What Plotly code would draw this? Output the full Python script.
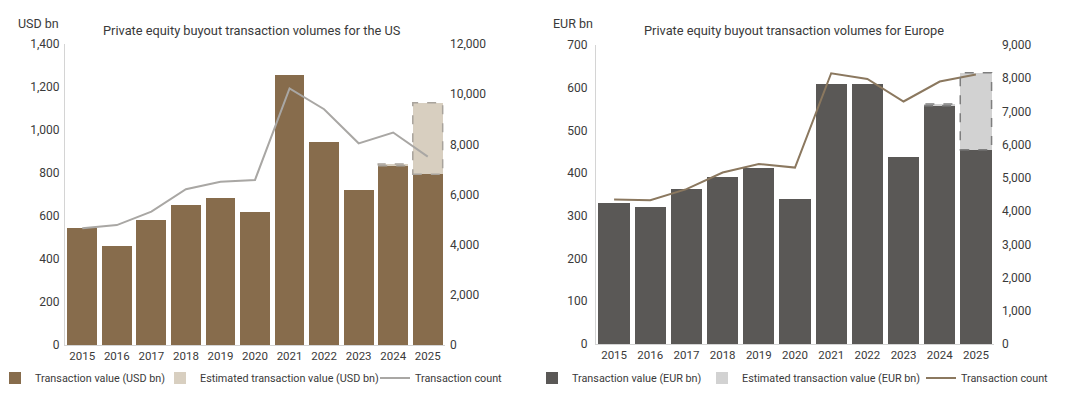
import plotly.graph_objects as go

years = [str(y) for y in range(2015, 2026)]

us_value = [545, 462, 583, 651, 682, 619, 1254, 946, 721, 834, 794]
us_estimated = [0, 0, 0, 0, 0, 0, 0, 0, 0, 8, 333]
us_count = [4650, 4780, 5320, 6210, 6510, 6580, 10230, 9400, 8040, 8470, 7510]

eu_value = [330, 321, 364, 391, 412, 339, 608, 608, 437, 558, 455]
eu_estimated = [0, 0, 0, 0, 0, 0, 0, 0, 0, 4, 180]
eu_count = [4350, 4330, 4660, 5160, 5420, 5310, 8150, 7980, 7300, 7900, 8110]

# page body has an 8px default margin; lay out in window pixels
OFF = 8
W, H = 1080 - OFF, 398 - OFF
FONT = "Roboto, Arial, sans-serif"
TXT = "#3a3a3a"

US_BAR = "#876C4C"
US_EST = "#D8CFC0"
US_EST_LINE = "#A8A39C"
US_LINE = "#A9A7A4"
EU_BAR = "#5A5856"
EU_EST = "#D2D2D2"
EU_EST_LINE = "#7E7E7E"
EU_LINE = "#8B785F"

BARGAP = 0.135

def px_x(p):
    return (p - OFF) / W

def px_y(p):
    return 1 - (p - OFF) / H

fig = go.Figure()

# US
fig.add_trace(go.Bar(x=years, y=us_value, name="Transaction value (USD bn)",
                     marker=dict(color=US_BAR, line=dict(width=0)),
                     xaxis="x", yaxis="y", legend="legend"))
fig.add_trace(go.Bar(x=years, y=us_estimated, name="Estimated transaction value (USD bn)",
                     marker=dict(color=US_EST, line=dict(width=0)),
                     xaxis="x", yaxis="y", legend="legend2"))
fig.add_trace(go.Scatter(x=years, y=us_count, name="Transaction count", mode="lines",
                         line=dict(color=US_LINE, width=2),
                         xaxis="x", yaxis="y2", legend="legend3"))

# Europe
fig.add_trace(go.Bar(x=years, y=eu_value, name="Transaction value (EUR bn)",
                     marker=dict(color=EU_BAR, line=dict(width=0)),
                     xaxis="x2", yaxis="y3", legend="legend4"))
fig.add_trace(go.Bar(x=years, y=eu_estimated, name="Estimated transaction value (EUR bn)",
                     marker=dict(color=EU_EST, line=dict(width=0)),
                     xaxis="x2", yaxis="y3", legend="legend5"))
fig.add_trace(go.Scatter(x=years, y=eu_count, name="Transaction count", mode="lines",
                         line=dict(color=EU_LINE, width=2),
                         xaxis="x2", yaxis="y4", legend="legend6"))

# dashed outlines for estimated segments
shapes = []
half = (1 - BARGAP) / 2
for i, (base, est) in enumerate(zip(us_value, us_estimated)):
    if est > 0:
        shapes.append(dict(type="rect", xref="x", yref="y", x0=i - half, x1=i + half,
                           y0=base, y1=base + est, layer="above",
                           line=dict(color=US_EST_LINE, width=1.5, dash="dash")))
for i, (base, est) in enumerate(zip(eu_value, eu_estimated)):
    if est > 0:
        shapes.append(dict(type="rect", xref="x2", yref="y3", x0=i - half, x1=i + half,
                           y0=base, y1=base + est, layer="above",
                           line=dict(color=EU_EST_LINE, width=1.5, dash="dash")))

yfont = dict(family=FONT, size=12, color=TXT)
xfont = dict(family=FONT, size=11.5, color=TXT)
ydom_us = [px_y(345), px_y(44)]
ydom_eu = [px_y(344), px_y(45)]

def legend_at(xpix):
    return dict(orientation="h", x=px_x(xpix), xanchor="left", y=px_y(378), yanchor="middle",
                font=dict(family=FONT, size=10.8, color=TXT), itemwidth=30,
                bgcolor="rgba(0,0,0,0)", borderwidth=0)

fig.update_layout(
    width=W, height=H,
    margin=dict(l=0, r=0, t=0, b=0, autoexpand=False),
    paper_bgcolor="white", plot_bgcolor="white",
    barmode="stack", bargap=BARGAP,
    font=dict(family=FONT, size=12, color=TXT),
    shapes=shapes,
    showlegend=True,
    xaxis=dict(domain=[px_x(65), px_x(445)], anchor="y", type="category", automargin=False,
               showline=True, linecolor="#d4d4d4", linewidth=1, ticks="", tickangle=0,
               tickfont=xfont, showgrid=False, zeroline=False),
    yaxis=dict(domain=ydom_us, anchor="x", range=[0, 1400], dtick=200, tickformat=",",
               automargin=False, showline=True, linecolor="#d4d4d4", linewidth=1,
               showgrid=False, zeroline=False, tickfont=yfont, ticklabelstandoff=2),
    yaxis2=dict(overlaying="y", side="right", anchor="x", range=[0, 12000], dtick=2000,
                tickformat=",", automargin=False, showgrid=False, zeroline=False,
                showline=False, tickfont=yfont, ticklabelstandoff=4),
    xaxis2=dict(domain=[px_x(596), px_x(994)], anchor="y3", type="category", automargin=False,
                showline=True, linecolor="#d4d4d4", linewidth=1, ticks="", tickangle=0,
                tickfont=xfont, showgrid=False, zeroline=False),
    yaxis3=dict(domain=ydom_eu, anchor="x2", range=[0, 700], dtick=100, tickformat=",",
                automargin=False, showline=True, linecolor="#d4d4d4", linewidth=1,
                showgrid=False, zeroline=False, tickfont=yfont, ticklabelstandoff=5),
    yaxis4=dict(overlaying="y3", side="right", anchor="x2", range=[0, 9000], dtick=1000,
                tickformat=",", automargin=False, showgrid=False, zeroline=False,
                showline=False, tickfont=yfont, ticklabelstandoff=7),
    legend=legend_at(-5),
    legend2=legend_at(160),
    legend3=legend_at(375),
    legend4=legend_at(532),
    legend5=legend_at(702),
    legend6=legend_at(921),
    annotations=[
        dict(text="Private equity buyout transaction volumes for the US", xref="paper", yref="paper",
             x=px_x(252), y=px_y(30), xanchor="center", yanchor="middle", showarrow=False,
             font=dict(family=FONT, size=12.8, color=TXT)),
        dict(text="Private equity buyout transaction volumes for Europe", xref="paper", yref="paper",
             x=px_x(794), y=px_y(30), xanchor="center", yanchor="middle", showarrow=False,
             font=dict(family=FONT, size=12.8, color=TXT)),
        dict(text="USD bn", xref="paper", yref="paper",
             x=px_x(16), y=px_y(24), xanchor="left", yanchor="middle", showarrow=False,
             font=dict(family=FONT, size=12.5, color=TXT)),
        dict(text="EUR bn", xref="paper", yref="paper",
             x=px_x(551), y=px_y(24), xanchor="left", yanchor="middle", showarrow=False,
             font=dict(family=FONT, size=12.5, color=TXT)),
    ],
)

fig.write_html("out.html")
